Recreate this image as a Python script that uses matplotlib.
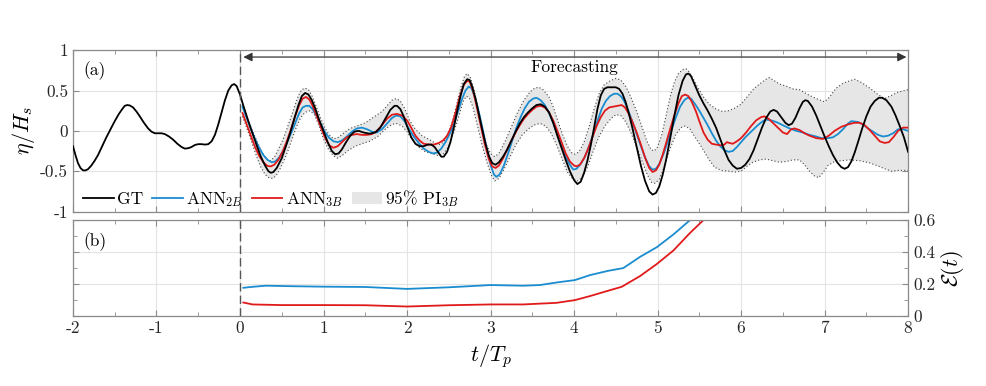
import numpy as np
import matplotlib
matplotlib.use("Agg")
import matplotlib.pyplot as plt
from matplotlib.ticker import MultipleLocator
from matplotlib.patches import Patch
from matplotlib.lines import Line2D

plt.rcParams['font.family'] = ['cmr10', 'DejaVu Serif']
plt.rcParams['mathtext.fontset'] = 'cm'
plt.rcParams['axes.formatter.use_mathtext'] = True
plt.rcParams['axes.unicode_minus'] = False

# ---------------- data: (t/Tp, value) pairs ----------------
gt_pts = [(-2.0, -0.19), (-1.97, -0.30), (-1.94, -0.40), (-1.91, -0.46), (-1.88, -0.49), (-1.85, -0.49),
          (-1.82, -0.475), (-1.78, -0.43), (-1.74, -0.37), (-1.7, -0.30), (-1.65, -0.19), (-1.6, -0.08),
          (-1.55, 0.02), (-1.5, 0.12), (-1.45, 0.21), (-1.41, 0.27), (-1.38, 0.31), (-1.35, 0.32),
          (-1.32, 0.315), (-1.28, 0.29), (-1.24, 0.24), (-1.2, 0.18), (-1.15, 0.10), (-1.1, 0.03),
          (-1.06, -0.01), (-1.02, -0.03), (-0.98, -0.03), (-0.94, -0.03), (-0.9, -0.04), (-0.85, -0.07),
          (-0.8, -0.11), (-0.75, -0.16), (-0.7, -0.20), (-0.66, -0.22), (-0.62, -0.215), (-0.58, -0.20),
          (-0.54, -0.175), (-0.5, -0.165), (-0.46, -0.165), (-0.42, -0.17), (-0.38, -0.165), (-0.34, -0.13),
          (-0.3, -0.05), (-0.26, 0.08), (-0.22, 0.23), (-0.18, 0.38), (-0.14, 0.50), (-0.1, 0.565),
          (-0.07, 0.58), (-0.04, 0.555), (0.0, 0.45), (0.05, 0.28), (0.1, 0.12), (0.15, -0.03),
          (0.2, -0.18), (0.25, -0.32), (0.3, -0.43), (0.34, -0.50), (0.37, -0.52), (0.40, -0.51),
          (0.44, -0.46), (0.5, -0.34), (0.55, -0.19), (0.6, -0.03), (0.65, 0.15), (0.7, 0.32),
          (0.74, 0.43), (0.78, 0.47), (0.82, 0.45), (0.86, 0.38), (0.9, 0.28), (0.95, 0.13), (1.0, 0.0),
          (1.05, -0.14), (1.1, -0.25), (1.14, -0.29), (1.18, -0.28), (1.22, -0.23), (1.27, -0.14),
          (1.32, -0.06), (1.37, -0.01), (1.42, 0.0), (1.48, -0.02), (1.55, -0.035), (1.62, -0.02),
          (1.68, 0.04), (1.74, 0.15), (1.8, 0.26), (1.85, 0.31), (1.88, 0.31), (1.92, 0.27), (1.96, 0.18),
          (2.0, 0.06), (2.05, -0.08), (2.1, -0.16), (2.15, -0.19), (2.2, -0.19), (2.25, -0.17),
          (2.29, -0.17), (2.33, -0.20), (2.37, -0.26), (2.41, -0.32), (2.44, -0.32), (2.48, -0.26),
          (2.52, -0.14), (2.56, 0.04), (2.6, 0.24), (2.64, 0.43), (2.68, 0.58), (2.72, 0.64), (2.75, 0.63),
          (2.78, 0.55), (2.82, 0.40), (2.86, 0.21), (2.9, 0.02), (2.94, -0.16), (2.98, -0.31), (3.02, -0.40),
          (3.06, -0.42), (3.1, -0.39), (3.15, -0.32), (3.2, -0.23), (3.25, -0.12), (3.3, -0.01), (3.35, 0.09),
          (3.4, 0.17), (3.45, 0.23), (3.5, 0.28), (3.55, 0.32), (3.6, 0.33), (3.65, 0.30), (3.7, 0.23),
          (3.75, 0.10), (3.8, -0.06), (3.85, -0.21), (3.9, -0.36), (3.95, -0.50), (4.0, -0.61), (4.04, -0.66),
          (4.08, -0.63), (4.12, -0.52), (4.16, -0.37), (4.2, -0.18), (4.24, 0.04), (4.28, 0.27), (4.32, 0.44),
          (4.36, 0.52), (4.4, 0.54), (4.45, 0.54), (4.5, 0.54), (4.54, 0.52), (4.58, 0.46), (4.62, 0.35),
          (4.66, 0.20), (4.7, 0.03), (4.75, -0.20), (4.8, -0.43), (4.85, -0.62), (4.9, -0.75), (4.94, -0.79),
          (4.98, -0.77), (5.02, -0.69), (5.06, -0.55), (5.1, -0.37), (5.15, -0.10), (5.2, 0.18), (5.25, 0.44),
          (5.3, 0.62), (5.34, 0.70), (5.37, 0.71), (5.4, 0.68), (5.45, 0.56), (5.5, 0.44), (5.55, 0.34),
          (5.6, 0.25), (5.65, 0.15), (5.7, 0.04), (5.75, -0.10), (5.8, -0.24), (5.85, -0.36), (5.9, -0.43),
          (5.95, -0.47), (6.0, -0.46), (6.05, -0.42), (6.1, -0.35), (6.15, -0.24), (6.2, -0.10), (6.25, 0.04),
          (6.3, 0.16), (6.35, 0.24), (6.39, 0.26), (6.43, 0.24), (6.48, 0.17), (6.53, 0.10), (6.57, 0.07),
          (6.61, 0.09), (6.65, 0.16), (6.7, 0.28), (6.74, 0.36), (6.77, 0.38), (6.8, 0.37), (6.85, 0.30),
          (6.9, 0.19), (6.95, 0.06), (7.0, -0.07), (7.05, -0.19), (7.1, -0.30), (7.15, -0.39), (7.2, -0.45),
          (7.24, -0.47), (7.28, -0.45), (7.32, -0.38), (7.36, -0.27), (7.4, -0.14), (7.45, 0.03), (7.5, 0.18),
          (7.55, 0.30), (7.6, 0.37), (7.65, 0.41), (7.69, 0.41), (7.74, 0.38), (7.8, 0.30), (7.85, 0.19),
          (7.9, 0.06), (7.95, -0.08), (8.0, -0.26)]

ann3_pts = [(0.03, 0.22), (0.08, 0.08), (0.13, -0.06), (0.18, -0.20), (0.23, -0.31), (0.28, -0.39), (0.33, -0.435),
            (0.37, -0.44), (0.41, -0.42), (0.46, -0.36), (0.51, -0.26), (0.56, -0.13), (0.61, 0.02), (0.66, 0.18),
            (0.71, 0.32), (0.75, 0.40), (0.79, 0.42), (0.83, 0.39), (0.87, 0.31), (0.92, 0.18), (0.97, 0.04),
            (1.02, -0.09), (1.07, -0.18), (1.12, -0.21), (1.17, -0.19), (1.22, -0.14), (1.28, -0.08), (1.34, -0.05),
            (1.4, -0.04), (1.46, -0.05), (1.52, -0.05), (1.58, -0.04), (1.64, 0.0), (1.7, 0.07), (1.76, 0.15),
            (1.82, 0.20), (1.88, 0.21), (1.94, 0.19), (2.0, 0.13), (2.05, 0.04), (2.1, -0.06), (2.15, -0.12),
            (2.2, -0.16), (2.26, -0.17), (2.32, -0.17), (2.38, -0.15), (2.43, -0.12), (2.48, -0.06), (2.53, 0.05),
            (2.58, 0.22), (2.63, 0.42), (2.68, 0.57), (2.72, 0.62), (2.75, 0.61), (2.79, 0.50), (2.83, 0.32),
            (2.88, 0.08), (2.93, -0.16), (2.98, -0.35), (3.02, -0.44), (3.06, -0.46), (3.1, -0.43), (3.15, -0.34),
            (3.2, -0.23), (3.25, -0.12), (3.3, -0.02), (3.35, 0.07), (3.4, 0.15), (3.45, 0.21), (3.5, 0.26),
            (3.55, 0.30), (3.6, 0.31), (3.65, 0.29), (3.7, 0.23), (3.75, 0.13), (3.8, 0.0), (3.85, -0.14),
            (3.9, -0.28), (3.95, -0.38), (4.0, -0.43), (4.03, -0.44), (4.07, -0.42), (4.12, -0.34), (4.17, -0.22),
            (4.22, -0.08), (4.27, 0.06), (4.32, 0.17), (4.37, 0.25), (4.42, 0.29), (4.47, 0.30), (4.52, 0.31),
            (4.57, 0.32), (4.61, 0.29), (4.65, 0.22), (4.7, 0.11), (4.75, -0.02), (4.8, -0.17), (4.85, -0.33),
            (4.9, -0.46), (4.94, -0.51), (4.98, -0.49), (5.02, -0.42), (5.06, -0.30), (5.1, -0.16), (5.15, 0.02),
            (5.2, 0.19), (5.25, 0.34), (5.29, 0.43), (5.33, 0.45), (5.37, 0.43), (5.41, 0.36), (5.46, 0.24),
            (5.5, 0.12), (5.55, -0.02), (5.6, -0.11), (5.65, -0.16), (5.7, -0.17), (5.76, -0.18), (5.8, -0.17),
            (5.83, -0.14), (5.86, -0.15), (5.9, -0.16), (5.95, -0.13), (6.0, -0.09), (6.06, -0.02), (6.12, 0.06),
            (6.18, 0.13), (6.24, 0.17), (6.28, 0.18), (6.33, 0.15), (6.38, 0.10), (6.44, 0.04), (6.5, -0.02),
            (6.55, -0.04), (6.6, 0.02), (6.64, 0.03), (6.7, 0.01), (6.76, -0.03), (6.82, -0.06), (6.9, -0.09),
            (6.98, -0.10), (7.05, -0.06), (7.12, 0.0), (7.2, 0.05), (7.28, 0.08), (7.36, 0.10), (7.42, 0.10),
            (7.48, 0.07), (7.54, 0.01), (7.6, -0.06), (7.66, -0.13), (7.72, -0.15), (7.77, -0.14), (7.83, -0.07),
            (7.88, 0.0), (7.94, 0.04), (8.0, 0.04)]

ann2_pts = [(0.03, 0.30), (0.08, 0.16), (0.13, 0.02), (0.18, -0.10), (0.23, -0.21), (0.28, -0.30), (0.33, -0.36),
            (0.38, -0.39), (0.42, -0.38), (0.47, -0.33), (0.52, -0.24), (0.57, -0.13), (0.62, -0.01), (0.67, 0.12),
            (0.71, 0.22), (0.75, 0.29), (0.79, 0.31), (0.83, 0.31), (0.87, 0.27), (0.92, 0.18), (0.97, 0.08),
            (1.02, -0.02), (1.07, -0.09), (1.12, -0.13), (1.17, -0.14), (1.22, -0.12), (1.28, -0.07), (1.34, -0.01),
            (1.4, 0.03), (1.46, 0.04), (1.52, 0.02), (1.58, -0.01), (1.64, -0.02), (1.7, 0.02), (1.76, 0.09),
            (1.82, 0.16), (1.87, 0.19), (1.92, 0.18), (1.97, 0.12), (2.02, 0.03), (2.08, -0.07), (2.14, -0.15),
            (2.2, -0.22), (2.26, -0.26), (2.31, -0.28), (2.36, -0.27), (2.41, -0.22), (2.46, -0.14), (2.51, -0.04),
            (2.56, 0.08), (2.61, 0.24), (2.66, 0.40), (2.7, 0.50), (2.74, 0.55), (2.77, 0.53), (2.81, 0.43),
            (2.85, 0.28), (2.9, 0.05), (2.95, -0.20), (3.0, -0.42), (3.04, -0.54), (3.07, -0.57), (3.11, -0.54),
            (3.16, -0.43), (3.21, -0.28), (3.26, -0.12), (3.31, 0.04), (3.36, 0.17), (3.41, 0.28), (3.46, 0.36),
            (3.51, 0.40), (3.55, 0.41), (3.6, 0.38), (3.65, 0.32), (3.7, 0.22), (3.75, 0.10), (3.8, -0.04),
            (3.85, -0.19), (3.9, -0.32), (3.95, -0.42), (3.99, -0.48), (4.03, -0.47), (4.08, -0.41), (4.13, -0.32),
            (4.18, -0.19), (4.23, -0.04), (4.28, 0.12), (4.33, 0.27), (4.38, 0.37), (4.43, 0.43), (4.48, 0.46),
            (4.52, 0.46), (4.56, 0.43), (4.6, 0.37), (4.65, 0.25), (4.7, 0.11), (4.75, -0.04), (4.8, -0.19),
            (4.85, -0.33), (4.9, -0.44), (4.94, -0.48), (4.98, -0.47), (5.02, -0.41), (5.07, -0.29), (5.12, -0.14),
            (5.17, 0.02), (5.22, 0.17), (5.27, 0.30), (5.32, 0.38), (5.36, 0.41), (5.4, 0.40), (5.45, 0.33),
            (5.5, 0.25), (5.55, 0.16), (5.6, 0.07), (5.65, -0.03), (5.7, -0.12), (5.75, -0.19), (5.8, -0.24),
            (5.85, -0.26), (5.9, -0.25), (5.95, -0.20), (6.0, -0.14), (6.05, -0.08), (6.1, -0.03), (6.15, 0.02),
            (6.2, 0.07), (6.26, 0.12), (6.3, 0.14), (6.36, 0.13), (6.42, 0.11), (6.5, 0.07), (6.58, 0.03),
            (6.66, 0.0), (6.74, -0.02), (6.82, -0.05), (6.9, -0.07), (6.96, -0.09), (7.04, -0.09), (7.1, -0.08),
            (7.16, -0.04), (7.22, 0.02), (7.28, 0.09), (7.32, 0.12), (7.4, 0.11), (7.46, 0.08), (7.52, 0.03),
            (7.58, -0.01), (7.64, -0.05), (7.7, -0.07), (7.76, -0.06), (7.82, -0.03), (7.88, 0.02), (7.94, 0.02),
            (8.0, 0.0)]

pi_up_pts = [(0.03, 0.33), (0.08, 0.18), (0.14, 0.02), (0.2, -0.12), (0.26, -0.26), (0.31, -0.34), (0.36, -0.37),
             (0.41, -0.33), (0.46, -0.23), (0.51, -0.12), (0.56, 0.02), (0.61, 0.17), (0.66, 0.32), (0.7, 0.44),
             (0.74, 0.51), (0.78, 0.53), (0.82, 0.51), (0.86, 0.44), (0.91, 0.31), (0.96, 0.17), (1.01, 0.05),
             (1.06, -0.04), (1.12, -0.10), (1.18, -0.08), (1.25, -0.02), (1.32, 0.03), (1.4, 0.06), (1.5, 0.10),
             (1.6, 0.17), (1.7, 0.24), (1.76, 0.31), (1.82, 0.38), (1.87, 0.40), (1.92, 0.37), (1.97, 0.28),
             (2.03, 0.13), (2.1, 0.02), (2.18, -0.06), (2.27, -0.11), (2.35, -0.16), (2.4, -0.17), (2.45, -0.12),
             (2.5, -0.02), (2.55, 0.14), (2.6, 0.35), (2.65, 0.56), (2.69, 0.68), (2.72, 0.71), (2.76, 0.66),
             (2.8, 0.52), (2.85, 0.28), (2.9, 0.03), (2.95, -0.17), (3.0, -0.28), (3.05, -0.32), (3.1, -0.28),
             (3.17, -0.14), (3.25, 0.05), (3.32, 0.22), (3.4, 0.38), (3.47, 0.48), (3.53, 0.53), (3.58, 0.54),
             (3.63, 0.51), (3.7, 0.42), (3.75, 0.30), (3.8, 0.14), (3.86, -0.04), (3.92, -0.19), (3.97, -0.27),
             (4.01, -0.29), (4.06, -0.26), (4.12, -0.14), (4.18, 0.05), (4.24, 0.27), (4.3, 0.46), (4.36, 0.57),
             (4.43, 0.62), (4.5, 0.65), (4.56, 0.63), (4.62, 0.55), (4.68, 0.42), (4.75, 0.24), (4.81, 0.06),
             (4.87, -0.12), (4.92, -0.23), (4.96, -0.25), (5.0, -0.20), (5.05, -0.05), (5.1, 0.18), (5.15, 0.42),
             (5.2, 0.60), (5.25, 0.71), (5.3, 0.76), (5.34, 0.77), (5.38, 0.73), (5.43, 0.64), (5.48, 0.54),
             (5.55, 0.42), (5.62, 0.33), (5.7, 0.27), (5.78, 0.24), (5.85, 0.25), (5.92, 0.28), (6.0, 0.33),
             (6.08, 0.43), (6.15, 0.52), (6.22, 0.58), (6.3, 0.64), (6.34, 0.66), (6.4, 0.62), (6.46, 0.58),
             (6.55, 0.55), (6.62, 0.52), (6.7, 0.51), (6.8, 0.45), (6.9, 0.40), (7.0, 0.36), (7.06, 0.42),
             (7.14, 0.53), (7.22, 0.59), (7.3, 0.62), (7.36, 0.64), (7.44, 0.60), (7.54, 0.53), (7.64, 0.45),
             (7.72, 0.40), (7.8, 0.44), (7.88, 0.48), (8.0, 0.51)]

pi_lo_pts = [(0.03, 0.18), (0.08, 0.04), (0.14, -0.14), (0.2, -0.32), (0.25, -0.45), (0.3, -0.54), (0.35, -0.585),
             (0.39, -0.59), (0.43, -0.56), (0.48, -0.47), (0.53, -0.36), (0.58, -0.23), (0.63, -0.08), (0.68, 0.06),
             (0.73, 0.17), (0.78, 0.23), (0.84, 0.25), (0.89, 0.20), (0.94, 0.08), (1.0, -0.10), (1.06, -0.23),
             (1.12, -0.31), (1.17, -0.34), (1.23, -0.30), (1.3, -0.24), (1.38, -0.19), (1.46, -0.16), (1.55, -0.13),
             (1.65, -0.07), (1.75, 0.03), (1.82, 0.08), (1.88, 0.09), (1.94, 0.06), (2.0, -0.01), (2.07, -0.12),
             (2.15, -0.21), (2.22, -0.26), (2.3, -0.28), (2.38, -0.31), (2.44, -0.28), (2.5, -0.19), (2.56, -0.02),
             (2.62, 0.18), (2.67, 0.36), (2.71, 0.43), (2.75, 0.40), (2.79, 0.29), (2.84, 0.08), (2.9, -0.18),
             (2.96, -0.40), (3.01, -0.55), (3.05, -0.62), (3.1, -0.59), (3.16, -0.48), (3.22, -0.35), (3.3, -0.18),
             (3.38, -0.05), (3.46, 0.03), (3.54, 0.08), (3.6, 0.09), (3.66, 0.06), (3.72, -0.02), (3.78, -0.15),
             (3.85, -0.33), (3.92, -0.51), (3.98, -0.59), (4.04, -0.62), (4.1, -0.58), (4.16, -0.45), (4.23, -0.25),
             (4.3, -0.07), (4.37, 0.06), (4.44, 0.15), (4.5, 0.20), (4.56, 0.19), (4.62, 0.11), (4.68, -0.02),
             (4.75, -0.20), (4.82, -0.39), (4.88, -0.55), (4.93, -0.64), (4.97, -0.65), (5.02, -0.60), (5.08, -0.45),
             (5.15, -0.22), (5.22, -0.04), (5.28, 0.04), (5.33, 0.06), (5.39, 0.02), (5.45, -0.08), (5.52, -0.19),
             (5.6, -0.33), (5.68, -0.45), (5.76, -0.49), (5.85, -0.50), (5.93, -0.51), (6.0, -0.50), (6.07, -0.44),
             (6.14, -0.39), (6.22, -0.36), (6.3, -0.35), (6.38, -0.37), (6.46, -0.39), (6.54, -0.38), (6.62, -0.36),
             (6.7, -0.36), (6.76, -0.42), (6.82, -0.50), (6.88, -0.56), (6.93, -0.58), (6.98, -0.52), (7.04, -0.43),
             (7.12, -0.38), (7.2, -0.37), (7.3, -0.36), (7.42, -0.37), (7.55, -0.40), (7.65, -0.44), (7.72, -0.47),
             (7.8, -0.50), (7.88, -0.49), (8.0, -0.49)]

err2_pts = [(0.04, 0.177), (0.15, 0.183), (0.31, 0.19), (0.6, 0.187), (1.0, 0.184), (1.5, 0.182), (2.0, 0.17),
            (2.5, 0.18), (3.0, 0.194), (3.39, 0.19), (3.59, 0.194), (3.79, 0.21), (4.01, 0.225), (4.19, 0.256),
            (4.41, 0.283), (4.59, 0.30), (4.79, 0.37), (4.99, 0.43), (5.19, 0.51), (5.39, 0.60), (5.6, 0.68)]
err3_pts = [(0.04, 0.085), (0.15, 0.073), (0.5, 0.069), (1.0, 0.069), (1.5, 0.068), (2.0, 0.06), (2.5, 0.068),
            (3.0, 0.073), (3.39, 0.073), (3.79, 0.083), (4.01, 0.10), (4.19, 0.125), (4.39, 0.156), (4.57, 0.183),
            (4.79, 0.25), (4.99, 0.325), (5.19, 0.41), (5.39, 0.52), (5.55, 0.60), (5.7, 0.68)]

x_ticks = [-2, -1, 0, 1, 2, 3, 4, 5, 6, 7, 8]
x_ticklabels = ['-2', '-1', '0', '1', '2', '3', '4', '5', '6', '7', '8']
ya_ticks = [-1, -0.5, 0, 0.5, 1]
ya_ticklabels = ['-1', '-0.5', '0', '0.5', '1']
yb_ticks = [0, 0.2, 0.4, 0.6]
yb_ticklabels = ['0', '0.2', '0.4', '0.6']
legend_labels = ['GT', r'ANN$_{2B}$', r'ANN$_{3B}$', r'95% PI$_{3B}$']


def xy(pts):
    a = np.array(pts, dtype=float)
    return a[:, 0], a[:, 1]


gt_t, gt_v = xy(gt_pts)
ann2_t, ann2_v = xy(ann2_pts)
ann3_t, ann3_v = xy(ann3_pts)
up_t, up_v = xy(pi_up_pts)
lo_t, lo_v = xy(pi_lo_pts)
e2_t, e2_v = xy(err2_pts)
e3_t, e3_v = xy(err3_pts)

# ---------------- styling ----------------
C_BLUE = '#1a8cd0'
C_RED = '#e01a1a'
C_GT = '#000000'
C_FILL = '#e6e6e6'
C_SPINE = '#8a8a8a'
C_GRID = '#e4e4e4'
FS = 12.5

fig = plt.figure(figsize=(9.86, 3.86), dpi=100)
axa = fig.add_axes([0.074, 0.452, 0.847, 0.418])
axb = fig.add_axes([0.074, 0.181, 0.847, 0.249])


def style(ax):
    for s in ax.spines.values():
        s.set_color(C_SPINE)
        s.set_linewidth(0.9)
    ax.tick_params(which='both', direction='in', colors='#262626', labelsize=FS,
                   top=True, right=True, color=C_SPINE)
    ax.tick_params(which='major', length=4)
    ax.tick_params(which='minor', length=3)
    ax.grid(True, which='major', color=C_GRID, linewidth=0.8)
    ax.set_axisbelow(True)
    ax.set_xlim(-2, 8)
    ax.set_xticks(x_ticks)
    ax.xaxis.set_minor_locator(MultipleLocator(0.5))


style(axa)
style(axb)

# ---- panel (a) ----
axa.fill(np.concatenate([up_t, lo_t[::-1]]), np.concatenate([up_v, lo_v[::-1]]),
         color=C_FILL, lw=0, zorder=1)
axa.plot(up_t, up_v, ls=(0, (1, 2)), color='#444444', lw=0.8, zorder=2)
axa.plot(lo_t, lo_v, ls=(0, (1, 2)), color='#444444', lw=0.8, zorder=2)
axa.plot(gt_t, gt_v, color=C_GT, lw=1.3, zorder=5, solid_joinstyle='round')
axa.plot(ann2_t, ann2_v, color=C_BLUE, lw=1.3, zorder=4, solid_joinstyle='round')
axa.plot(ann3_t, ann3_v, color=C_RED, lw=1.3, zorder=4, solid_joinstyle='round')
axa.axvline(0, color='#555555', ls=(0, (6, 3)), lw=1.0, zorder=6)

axa.set_ylim(-1, 1)
axa.set_yticks(ya_ticks)
axa.set_yticklabels(ya_ticklabels)
axa.set_xticklabels([])
axa.set_ylabel(r'$\eta/H_s$', fontsize=16, labelpad=2)

axa.annotate('', xy=(7.98, 0.915), xytext=(0.04, 0.915),
             arrowprops=dict(arrowstyle='<|-|>', color='#333333', lw=0.9,
                             mutation_scale=13, shrinkA=0, shrinkB=0))
axa.text(4.0, 0.79, 'Forecasting', ha='center', va='center', fontsize=FS)
axa.text(0.012, 0.876, '(a)', transform=axa.transAxes, ha='left', va='center', fontsize=FS)

handles = [Line2D([], [], color=C_GT, lw=1.3),
           Line2D([], [], color=C_BLUE, lw=1.3),
           Line2D([], [], color=C_RED, lw=1.3),
           Patch(facecolor=C_FILL, edgecolor='none')]
axa.legend(handles, legend_labels, loc='lower left', bbox_to_anchor=(0.0, -0.05), ncol=4,
           frameon=False, fontsize=FS, handlelength=1.75, handletextpad=0.2,
           columnspacing=0.5, borderaxespad=0.2)

# ---- panel (b) ----
axb.plot(e2_t, e2_v, color=C_BLUE, lw=1.3)
axb.plot(e3_t, e3_v, color=C_RED, lw=1.3)
axb.axvline(0, color='#555555', ls=(0, (6, 3)), lw=1.0, zorder=6)
axb.set_ylim(0, 0.6)
axb.set_yticks(yb_ticks)
axb.set_yticklabels(yb_ticklabels)
axb.yaxis.set_minor_locator(MultipleLocator(0.1))
axb.tick_params(axis='y', which='both', labelleft=False, labelright=True, left=True, right=True)
axb.yaxis.set_label_position('right')
axb.set_ylabel(r'$\mathcal{E}(t)$', fontsize=16, labelpad=3, rotation=90)
axb.set_xticklabels(x_ticklabels)
axb.set_xlabel(r'$t/T_p$', fontsize=16, labelpad=4)
axb.text(0.012, 0.77, '(b)', transform=axb.transAxes, ha='left', va='center', fontsize=FS)

fig.savefig('out.png', dpi=100)
